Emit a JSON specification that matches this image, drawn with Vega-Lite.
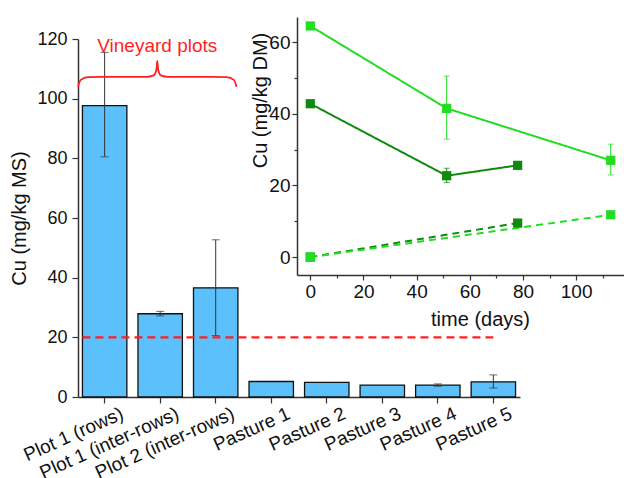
{
  "$schema": "https://vega.github.io/schema/vega-lite/v6.json",
  "width": 442,
  "height": 358,
  "autosize": "none",
  "padding": {"left": 78, "top": 39, "right": 104, "bottom": 81},
  "background": "white",
  "config": {
    "view": {"stroke": null},
    "font": "Liberation Sans",
    "axis": {
      "labelFont": "Liberation Sans",
      "titleFont": "Liberation Sans",
      "titleFontWeight": "normal",
      "labelColor": "#111",
      "titleColor": "#111",
      "domainColor": "#333",
      "domainWidth": 1.5,
      "tickColor": "#333",
      "tickWidth": 1.2,
      "tickSize": 5,
      "grid": false
    }
  },
  "resolve": {
    "scale": {"x": "independent", "y": "independent"},
    "axis": {"x": "independent", "y": "independent"}
  },
  "layer": [
    {
      "data": {
        "values": [
          {"site": "Plot 1 (rows)", "cu": 97.7, "lo": 80.5, "hi": 115.5},
          {"site": "Plot 1 (inter-rows)", "cu": 27.9, "lo": 27.2, "hi": 28.7},
          {"site": "Plot 2 (inter-rows)", "cu": 36.6, "lo": 20.6, "hi": 52.7},
          {"site": "Pasture 1", "cu": 5.2},
          {"site": "Pasture 2", "cu": 4.9},
          {"site": "Pasture 3", "cu": 4.0},
          {"site": "Pasture 4", "cu": 4.0, "lo": 3.6, "hi": 4.4},
          {"site": "Pasture 5", "cu": 5.1, "lo": 3.0, "hi": 7.4}
        ]
      },
      "encoding": {
        "x": {
          "field": "site",
          "type": "nominal",
          "sort": null,
          "scale": {
            "domain": ["Plot 1 (rows)", "Plot 1 (inter-rows)", "Plot 2 (inter-rows)", "Pasture 1", "Pasture 2", "Pasture 3", "Pasture 4", "Pasture 5"],
            "paddingInner": 0.2,
            "paddingOuter": 0.08
          },
          "axis": {"title": null, "labelAngle": -24, "labelFontSize": 19, "labelPadding": 1, "labelOffset": 14, "tickSize": 6}
        }
      },
      "layer": [
        {
          "mark": {"type": "bar", "color": "#5bc0fb", "stroke": "#111", "strokeWidth": 1.3},
          "encoding": {
            "y": {
              "field": "cu",
              "type": "quantitative",
              "title": "Cu (mg/kg MS)",
              "scale": {"domain": [0, 120], "nice": false},
              "axis": {
                "titleFontSize": 20,
                "labelFontSize": 18,
                "values": [0, 10, 20, 30, 40, 50, 60, 70, 80, 90, 100, 110, 120],
                "labelExpr": "datum.value % 20 === 0 ? datum.label : ''",
                "tickSize": {"condition": {"test": "datum.value % 20 === 0", "value": 6}, "value": 3},
                "labelPadding": 5,
                "titlePadding": 7
              }
            }
          }
        },
        {
          "transform": [{"filter": "isValid(datum.lo)"}],
          "mark": {"type": "errorbar", "ticks": {"size": 8, "color": "#333"}, "color": "#333", "thickness": 1},
          "encoding": {
            "y": {"field": "lo", "type": "quantitative", "title": "Cu (mg/kg MS)"},
            "y2": {"field": "hi"}
          }
        },
        {
          "data": {"values": [{"from": "Plot 1 (rows)", "to": "Pasture 5", "limit": 20}]},
          "mark": {"type": "rule", "color": "#ff1f1f", "strokeWidth": 2.2, "strokeDash": [8, 5]},
          "encoding": {
            "x": {"field": "from", "type": "nominal", "bandPosition": 0},
            "x2": {"field": "to"},
            "y": {"field": "limit", "type": "quantitative", "title": "Cu (mg/kg MS)"}
          }
        }
      ]
    },
    {
      "encoding": {
        "x": {"field": "bx", "type": "quantitative", "scale": {"domain": [0, 8], "nice": false, "zero": false}, "axis": null},
        "y": {"field": "by", "type": "quantitative", "scale": {"domain": [0, 120], "nice": false}, "axis": null}
      },
      "layer": [
        {
          "data": {
            "values": [
              {"bx": 0.0, "by": 104.0},
              {"bx": 0.05, "by": 106.3},
              {"bx": 0.18, "by": 107.2},
              {"bx": 0.45, "by": 107.3},
              {"bx": 1.24, "by": 107.3},
              {"bx": 1.37, "by": 107.8},
              {"bx": 1.42, "by": 109.8},
              {"bx": 1.435, "by": 112.7},
              {"bx": 1.45, "by": 109.8},
              {"bx": 1.5, "by": 107.8},
              {"bx": 1.63, "by": 107.3},
              {"bx": 2.42, "by": 107.3},
              {"bx": 2.69, "by": 107.2},
              {"bx": 2.82, "by": 106.3},
              {"bx": 2.87, "by": 104.0}
            ]
          },
          "mark": {"type": "line", "color": "#ff1f1f", "strokeWidth": 1.8, "interpolate": "monotone"}
        },
        {
          "data": {"values": [{"bx": 1.435, "by": 115.8, "label": "Vineyard plots"}]},
          "mark": {"type": "text", "color": "#ff1f1f", "fontSize": 19, "baseline": "alphabetic", "align": "center", "font": "Liberation Sans"},
          "encoding": {"text": {"field": "label"}}
        }
      ]
    },
    {
      "data": {
        "values": [
          {"series": "light solid", "t": 0, "cu": 64.5},
          {"series": "light solid", "t": 51.3, "cu": 41.5, "lo": 32.9, "hi": 50.5},
          {"series": "light solid", "t": 113, "cu": 27.0, "lo": 22.9, "hi": 31.5},
          {"series": "dark solid", "t": 0, "cu": 42.8},
          {"series": "dark solid", "t": 51.3, "cu": 22.7, "lo": 20.8, "hi": 24.8},
          {"series": "dark solid", "t": 78, "cu": 25.6, "lo": 24.6, "hi": 26.6},
          {"series": "dark dashed", "t": 0, "cu": 0},
          {"series": "dark dashed", "t": 78, "cu": 9.5, "lo": 8.9, "hi": 10.1},
          {"series": "light dashed", "t": 0, "cu": 0},
          {"series": "light dashed", "t": 113, "cu": 11.8}
        ]
      },
      "encoding": {
        "x": {
          "field": "t",
          "type": "quantitative",
          "scale": {"domain": [-5, 118], "range": [219, 546], "nice": false, "zero": false},
          "axis": {
            "orient": "bottom",
            "offset": -122,
            "title": "time (days)",
            "titleFontSize": 20,
            "labelFontSize": 19,
            "values": [0, 10, 20, 30, 40, 50, 60, 70, 80, 90, 100, 110],
            "labelExpr": "datum.value % 20 === 0 ? datum.label : ''",
            "tickSize": {"condition": {"test": "datum.value % 20 === 0", "value": 5}, "value": 3},
            "titleX": 402,
            "titlePadding": 8
          }
        },
        "y": {
          "field": "cu",
          "type": "quantitative",
          "scale": {"domain": [-5, 67], "range": [236, -22], "nice": false, "zero": false},
          "axis": {
            "orient": "left",
            "offset": -219,
            "title": "Cu (mg/kg DM)",
            "titleFontSize": 20,
            "labelFontSize": 19,
            "values": [0, 10, 20, 30, 40, 50, 60],
            "labelExpr": "datum.value % 20 === 0 ? datum.label : ''",
            "tickSize": {"condition": {"test": "datum.value % 20 === 0", "value": 5}, "value": 3},
            "titleY": 61,
            "titlePadding": -2
          }
        },
        "color": {
          "field": "series",
          "type": "nominal",
          "scale": {"domain": ["light solid", "dark solid", "dark dashed", "light dashed"], "range": ["#22dd22", "#0f8a0f", "#0f8a0f", "#22dd22"]},
          "legend": null
        }
      },
      "layer": [
        {
          "mark": {"type": "line", "strokeWidth": 2},
          "encoding": {
            "strokeDash": {
              "field": "series",
              "type": "nominal",
              "scale": {"domain": ["light solid", "dark solid", "dark dashed", "light dashed"], "range": [[1, 0], [1, 0], [7, 5], [7, 5]]},
              "legend": null
            }
          }
        },
        {
          "transform": [{"filter": "isValid(datum.lo)"}],
          "mark": {"type": "errorbar", "ticks": {"size": 6}, "thickness": 1},
          "encoding": {
            "y": {"field": "lo", "type": "quantitative", "title": "Cu (mg/kg DM)"},
            "y2": {"field": "hi"}
          }
        },
        {
          "mark": {"type": "point", "shape": "square", "filled": true, "size": 85, "opacity": 1},
          "encoding": {
            "order": {"field": "cu"}
          }
        }
      ]
    }
  ]
}
